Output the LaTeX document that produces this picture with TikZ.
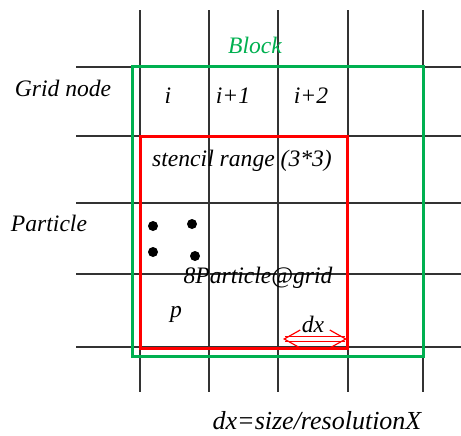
\documentclass[tikz,border=0pt]{standalone}
\usepackage{fontspec}
\setmainfont{Liberation Serif}
\usepackage{tikz}
\usetikzlibrary{arrows.meta}
\usetikzlibrary{calc,positioning}

\definecolor{blockgreen}{RGB}{0,176,80}

\begin{document}
\begin{tikzpicture}[x=0.5pt,y=-0.5pt,
    lbl/.style={font=\fontsize{11.8}{14}\selectfont\itshape, inner sep=0pt, anchor=base},
    gridline/.style={line width=0.65pt, black!80},
    particle/.style={circle, fill=black, inner sep=0pt, minimum size=5pt}]

    \useasboundingbox (0,0) rectangle (461,435);

    % Grid
    \foreach \x in {140,209,278,348,423} {
        \draw[gridline] (\x,10) -- (\x,392);
    }
    \foreach \y in {67,136,203,274,347} {
        \draw[gridline] (76,\y) -- (461,\y);
    }

    % Block
    \draw[line width=1.5pt, blockgreen] (132,66) rectangle (423,356);
    \node[lbl, text=blockgreen] (block) at (255,53) {Block};

    % Stencil range
    \draw[line width=1.5pt, red] (140,136) rectangle (347,348);

    % Labels
    \node[lbl] (gridnode) at (63,96) {Grid node};
    \node[lbl] (ni) at (168,103) {i};
    \node[lbl] (nia) at (233,103) {i+1};
    \node[lbl] (nib) at (311,103) {i+2};
    \node[lbl] (stencil) at (242,166) {stencil range (3*3)};
    \node[lbl] (particle) at (49,231) {Particle};
    \node[lbl] (ppg) at (258,283) {8Particle@grid};
    \node[lbl] (p) at (176,317) {p};

    % Particles
    \node[particle] (pa) at (153,226) {};
    \node[particle] (pb) at (192,224) {};
    \node[particle] (pc) at (153,252) {};
    \node[particle] (pd) at (195,256) {};

    % dx
    \coordinate (dxl) at (283,339);
    \coordinate (dxr) at (347,339);
    \draw[red, line width=0.6pt, double, double distance=1.8pt,
          {Straight Barb[length=8pt, width=9pt]}-{Straight Barb[length=8pt, width=9pt]}] (dxl) -- (dxr);
    \node[lbl] (dx) at (313,332) {dx};

    \node[lbl, font=\fontsize{13}{15}\selectfont\itshape] (dxdef) at (317,429) {dx=size/resolutionX};
\end{tikzpicture}
\end{document}
